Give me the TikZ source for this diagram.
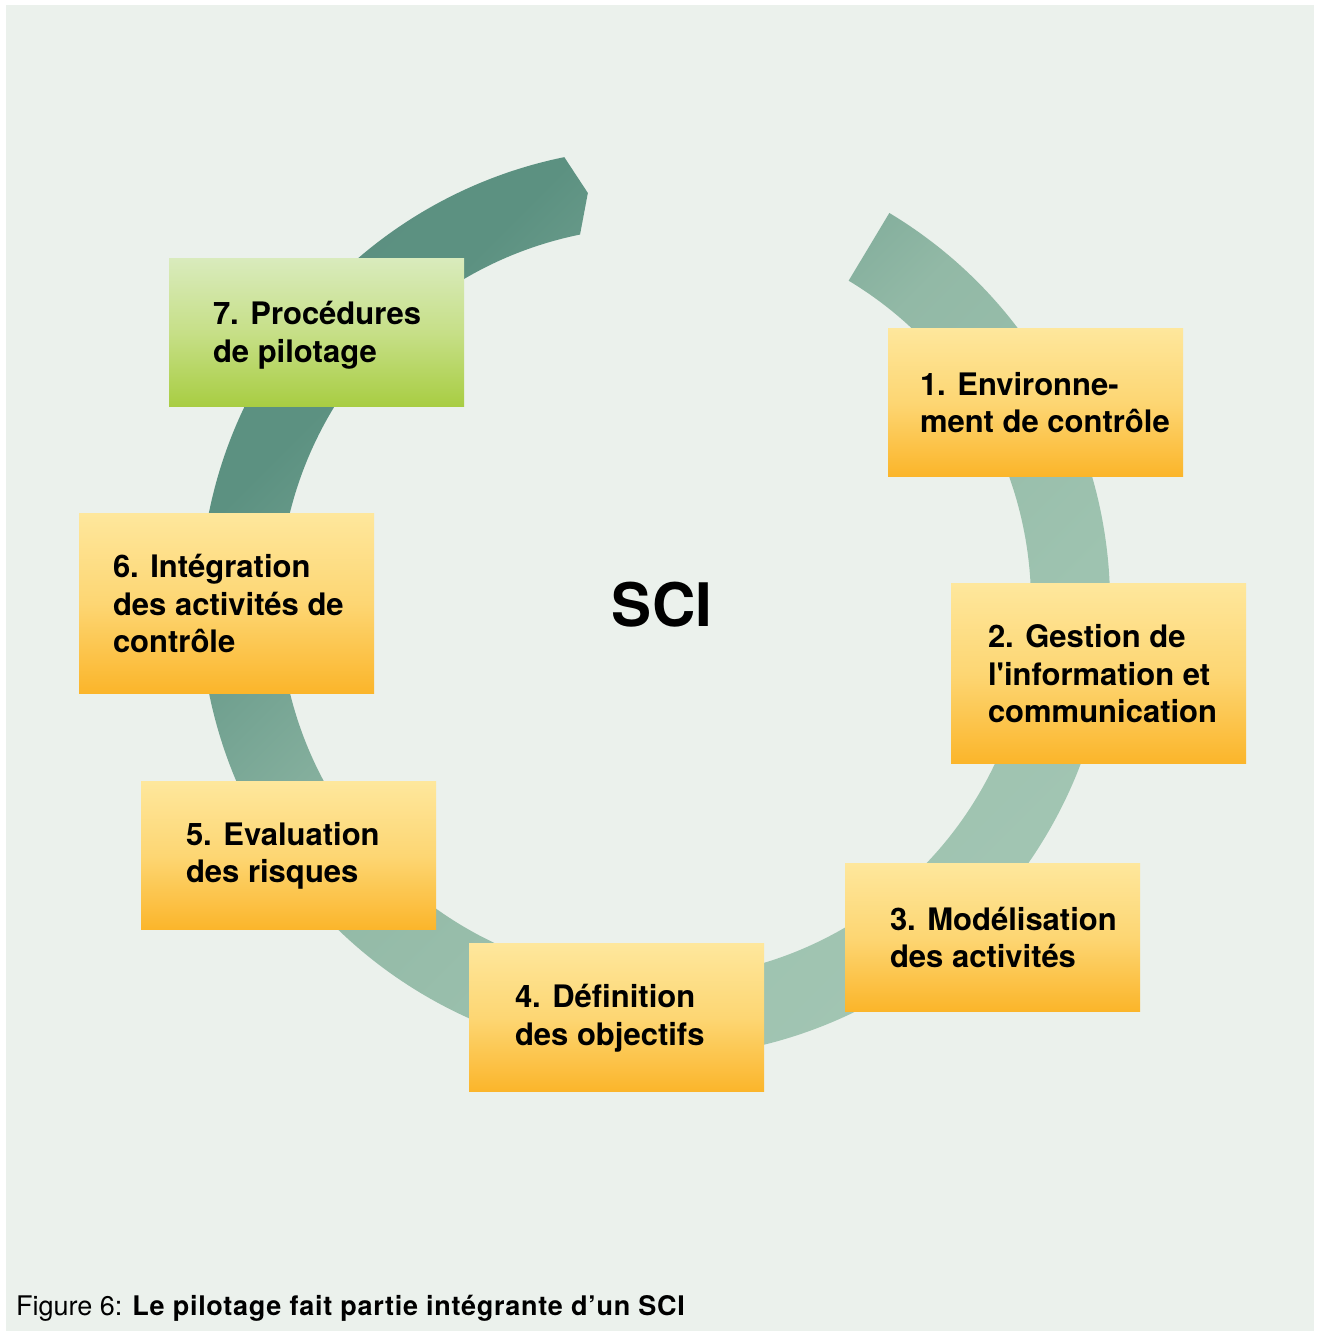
\documentclass[tikz,border=0pt]{standalone}
\usepackage{fontspec}
\setmainfont{TeX Gyre Heros}[Ligatures=TeXOff]
\usetikzlibrary{calc}

\definecolor{panel}{RGB}{235,241,236}
\definecolor{boxtop}{RGB}{254,231,156}
\definecolor{boxmid}{RGB}{253,214,115}
\definecolor{boxbot}{RGB}{251,181,42}
\definecolor{greentop}{RGB}{217,235,188}
\definecolor{greenmid}{RGB}{198,223,135}
\definecolor{greenbot}{RGB}{168,205,66}
% ring, light at the bottom right, dark at the top left
\pgfdeclareverticalshading{ringshade}{100bp}{rgb(0bp)=(0.647,0.780,0.710); rgb(20bp)=(0.647,0.780,0.710); rgb(37bp)=(0.620,0.765,0.690); rgb(53bp)=(0.573,0.725,0.651); rgb(61bp)=(0.471,0.651,0.584); rgb(70bp)=(0.361,0.569,0.506); rgb(100bp)=(0.345,0.549,0.490)}

\begin{document}
\begin{tikzpicture}[x=1pt, y=1pt, cbox/.style={minimum width=295pt, minimum height=148pt, inner sep=0pt, top color=boxtop, bottom color=boxbot, middle color=boxmid}, tallbox/.style={cbox, minimum height=180pt}, greenbox/.style={cbox, top color=greentop, bottom color=greenbot, middle color=greenmid}, boxtext/.style={anchor=west, align=left, inner sep=0pt, font=\fontsize{31}{37.5}\selectfont\bfseries}]
\fill[white] (0,0) rectangle (1318,1331);
\fill[panel] (6,0) rectangle (1314,1326);

% ring
\coordinate (c) at (655,728);
\shade[shading=ringshade, shading angle=45]
    ($(c)+(59:455)$) arc[start angle=59, end angle=-258.5, radius=455]
    -- ($(c)+(-260.7:415.5)$) -- ($(c)+(-258.5:376)$)
    arc[start angle=-258.5, end angle=59, radius=376] -- cycle;

\node[font=\fontsize{60}{60}\selectfont\bfseries] (sci) at (662,726) {SCI};

% boxes
\node[greenbox] (b7) at (316.5,998) {};
\node[cbox] (b1) at (1035.5,928.5) {};
\node[tallbox] (b6) at (226.5,727.5) {};
\node[tallbox] (b2) at (1098.5,657) {};
\node[cbox] (b5) at (288.5,475) {};
\node[cbox] (b3) at (992.5,393.5) {};
\node[cbox] (b4) at (616.5,313) {};

\node[boxtext] (t7) at ([xshift=44,yshift=-2]b7.west) {7. Procédures\\de pilotage};
\node[boxtext] (t1) at ([xshift=32]b1.west) {1. Environne-\\ment de contrôle};
\node[boxtext] (t6) at ([xshift=34]b6.west) {6. Intégration\\des activités de\\contrôle};
\node[boxtext] (t2) at ([xshift=37]b2.west) {2. Gestion de\\l'information et\\communication};
\node[boxtext] (t5) at ([xshift=45]b5.west) {5. Evaluation\\des risques};
\node[boxtext] (t3) at ([xshift=45]b3.west) {3. Modélisation\\des activités};
\node[boxtext] (t4) at ([xshift=46]b4.west) {4. Définition\\des objectifs};

% caption
\node[anchor=base west, inner sep=0pt, font=\fontsize{27}{27}\selectfont] (cap) at (16,16) {Figure 6: {\bfseries\addfontfeature{LetterSpace=2.6}Le pilotage fait partie intégrante d’un SCI}};
\end{tikzpicture}
\end{document}
